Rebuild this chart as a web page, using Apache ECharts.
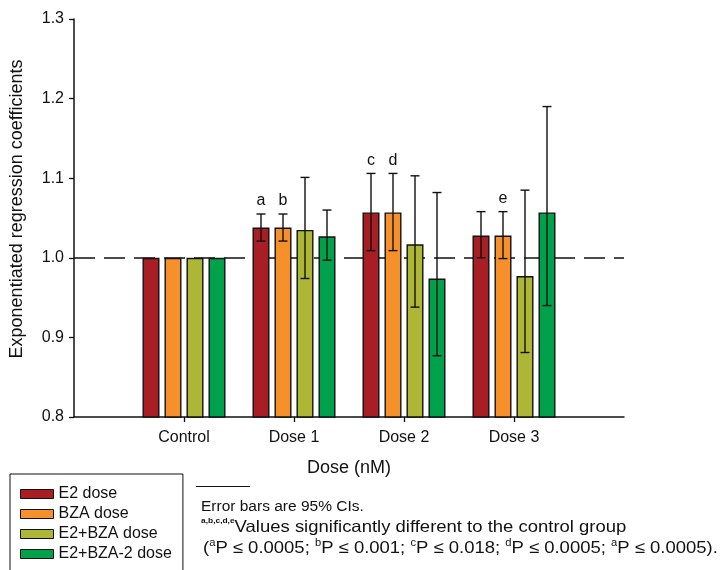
<!DOCTYPE html>
<html>
<head>
<meta charset="utf-8">
<script src="https://cdn.jsdelivr.net/npm/echarts@6/dist/echarts.min.js"></script>
<style>
  html, body { margin: 0; padding: 0; background: #ffffff; }
  #chart { width: 723px; height: 570px; }
</style>
</head>
<body>
<div id="chart"></div>
<script>
// Groups on the x axis and the four treatment series
const categories = ['Control', 'Dose 1', 'Dose 2', 'Dose 3'];
const seriesNames = ['E2 dose', 'BZA dose', 'E2+BZA dose', 'E2+BZA-2 dose'];
const seriesColors = ['#A81E24', '#F5902A', '#AEB735', '#00A14B'];

// Exponentiated regression coefficients per group
const e2Values     = [1.000, 1.038, 1.057, 1.028];
const bzaValues    = [1.000, 1.038, 1.057, 1.028];
const e2bzaValues  = [1.000, 1.035, 1.017, 0.977];
const e2bza2Values = [1.000, 1.027, 0.974, 1.057];

// 95% confidence limits (none for the control group)
const e2Low      = [null, 1.021, 1.009, 1.000];
const e2High     = [null, 1.055, 1.106, 1.058];
const bzaLow     = [null, 1.021, 1.009, 0.999];
const bzaHigh    = [null, 1.055, 1.106, 1.058];
const e2bzaLow   = [null, 0.974, 0.938, 0.881];
const e2bzaHigh  = [null, 1.101, 1.103, 1.085];
const e2bza2Low  = [null, 0.997, 0.877, 0.940];
const e2bza2High = [null, 1.060, 1.082, 1.190];

// Significance letters above the error bars
const e2Marks     = ['', 'a', 'c', ''];
const bzaMarks    = ['', 'b', 'd', 'e'];
const e2bzaMarks  = ['', '', '', ''];
const e2bza2Marks = ['', '', '', ''];

const yTicks = [0.8, 0.9, 1.0, 1.1, 1.2, 1.3];
const referenceLevel = 1.0;

const FONT = '"Liberation Sans", Arial, Helvetica, sans-serif';

const allValues = [e2Values, bzaValues, e2bzaValues, e2bza2Values];
const allLow = [e2Low, bzaLow, e2bzaLow, e2bza2Low];
const allHigh = [e2High, bzaHigh, e2bzaHigh, e2bza2High];
const allMarks = [e2Marks, bzaMarks, e2bzaMarks, e2bza2Marks];

// Empty slots at both ends leave the open space beside the first and last group
const axisCategories = [''].concat(categories).concat(['']);

const barSeries = seriesNames.map((name, s) => {
  const item = {
    name: name,
    type: 'bar',
    z: 2,
    barWidth: 17,
    barGap: '29.4%',
    itemStyle: { color: seriesColors[s], borderColor: '#111', borderWidth: 1.4 },
    data: ['-'].concat(allValues[s]).concat(['-'])
  };
  if (s === 0) {
    item.markLine = {
      z: 1,
      silent: true,
      symbol: 'none',
      label: { show: false },
      lineStyle: { color: '#111', width: 1.5, type: [21, 9] },
      data: [{ yAxis: referenceLevel }]
    };
  }
  return item;
});

// Error bar items: [category index, low, high, series index], letters kept aside
const errItems = [];
const errMarks = [];
allLow.forEach((lows, s) => {
  lows.forEach((lo, i) => {
    if (lo === null) return;
    errItems.push([i + 1, lo, allHigh[s][i], s]);
    errMarks.push(allMarks[s][i]);
  });
});

const errorSeries = {
  type: 'custom',
  name: 'CI',
  z: 5,
  silent: true,
  data: errItems,
  renderItem: function (params, api) {
    const ci = api.value(0);
    const lo = api.value(1);
    const hi = api.value(2);
    const s = api.value(3);
    const band = api.size([1, 0])[0];
    const off = (s - 1.5) * 0.2 * band;
    const pLo = api.coord([ci, lo]);
    const pHi = api.coord([ci, hi]);
    const x = pLo[0] + off;
    const cap = 4.5;
    const st = { stroke: '#111', lineWidth: 1.4 };
    const children = [
      { type: 'line', shape: { x1: x, y1: pLo[1], x2: x, y2: pHi[1] }, style: st },
      { type: 'line', shape: { x1: x - cap, y1: pHi[1], x2: x + cap, y2: pHi[1] }, style: st },
      { type: 'line', shape: { x1: x - cap, y1: pLo[1], x2: x + cap, y2: pLo[1] }, style: st }
    ];
    const mark = errMarks[params.dataIndex];
    if (mark) {
      children.push({
        type: 'text',
        x: x, y: pHi[1] - 13,
        style: { text: mark, fill: '#111', font: '16px ' + FONT, align: 'center', verticalAlign: 'middle' }
      });
    }
    return { type: 'group', children: children };
  }
};

const chart = echarts.init(document.getElementById('chart'), null, { renderer: 'canvas' });

chart.setOption({
  animation: false,
  backgroundColor: '#ffffff',
  grid: { left: 74, right: 99, top: 19, bottom: 153, containLabel: false },
  legend: {
    orient: 'vertical',
    left: 10,
    top: 474,
    height: 160,
    data: seriesNames,
    selectedMode: false,
    icon: 'rect',
    itemWidth: 33,
    itemHeight: 9,
    itemGap: 4,
    padding: [12, 11, 14, 10],
    borderColor: '#111',
    borderWidth: 1,
    itemStyle: { borderColor: '#111', borderWidth: 1 },
    textStyle: { fontSize: 16, color: '#111', fontFamily: FONT, lineHeight: 16 }
  },
  xAxis: {
    type: 'category',
    data: axisCategories,
    boundaryGap: false,
    name: 'Dose (nM)',
    nameLocation: 'middle',
    nameGap: 42,
    nameTextStyle: { fontSize: 18, color: '#111', fontFamily: FONT },
    axisLine: { show: true, lineStyle: { color: '#111', width: 1.5 } },
    axisTick: {
      show: true, length: 5, inside: false,
      lineStyle: { color: '#111', width: 1.3 },
      interval: function (index, value) { return value !== ''; }
    },
    axisLabel: {
      show: true, margin: 13, fontSize: 16, color: '#111', fontFamily: FONT,
      interval: 0
    },
    splitLine: { show: false }
  },
  yAxis: {
    type: 'value',
    min: yTicks[0],
    max: yTicks[yTicks.length - 1],
    interval: 0.1,
    name: 'Exponentiated regression coefficients',
    nameLocation: 'middle',
    nameGap: 48,
    nameTextStyle: { fontSize: 18, color: '#111', fontFamily: FONT, padding: [0, 0, 0, 18] },
    axisLine: { show: true, lineStyle: { color: '#111', width: 1.5 } },
    axisTick: { show: true, length: 5, inside: false, lineStyle: { color: '#111', width: 1.3 } },
    axisLabel: {
      margin: 10, fontSize: 16, color: '#111', fontFamily: FONT,
      formatter: function (v) { return v.toFixed(1); }
    },
    splitLine: { show: false }
  },
  graphic: [
    { type: 'line', shape: { x1: 196, y1: 486.5, x2: 250, y2: 486.5 }, style: { stroke: '#111', lineWidth: 1 } },
    {
      type: 'text', x: 201, y: 499,
      style: { text: 'Error bars are 95% CIs.', font: '15.5px ' + FONT, fill: '#111' }
    },
    {
      // the note lines are set slightly widened
      type: 'text', x: 201, y: 517, scaleX: 1.12,
      style: {
        text: '{s|a,b,c,d,e}{n|Values significantly different to the control group}',
        fill: '#111',
        rich: {
          s: { fontSize: 7.5, fontFamily: FONT, fontWeight: 'bold', verticalAlign: 'top', fill: '#111', lineHeight: 20 },
          n: { fontSize: 16.5, fontFamily: FONT, fill: '#111', lineHeight: 20 }
        }
      }
    },
    {
      type: 'text', x: 203, y: 538, scaleX: 1.12,
      style: {
        text: '{n|(}{s|a}{n|P ≤ 0.0005; }{s|b}{n|P ≤ 0.001; }{s|c}{n|P ≤ 0.018; }{s|d}{n|P ≤ 0.0005; }{s|a}{n|P ≤ 0.0005).}',
        fill: '#111',
        rich: {
          s: { fontSize: 10, fontFamily: FONT, verticalAlign: 'top', fill: '#111', lineHeight: 20 },
          n: { fontSize: 16.5, fontFamily: FONT, fill: '#111', lineHeight: 20 }
        }
      }
    }
  ],
  series: barSeries.concat([errorSeries])
});
</script>
</body>
</html>
